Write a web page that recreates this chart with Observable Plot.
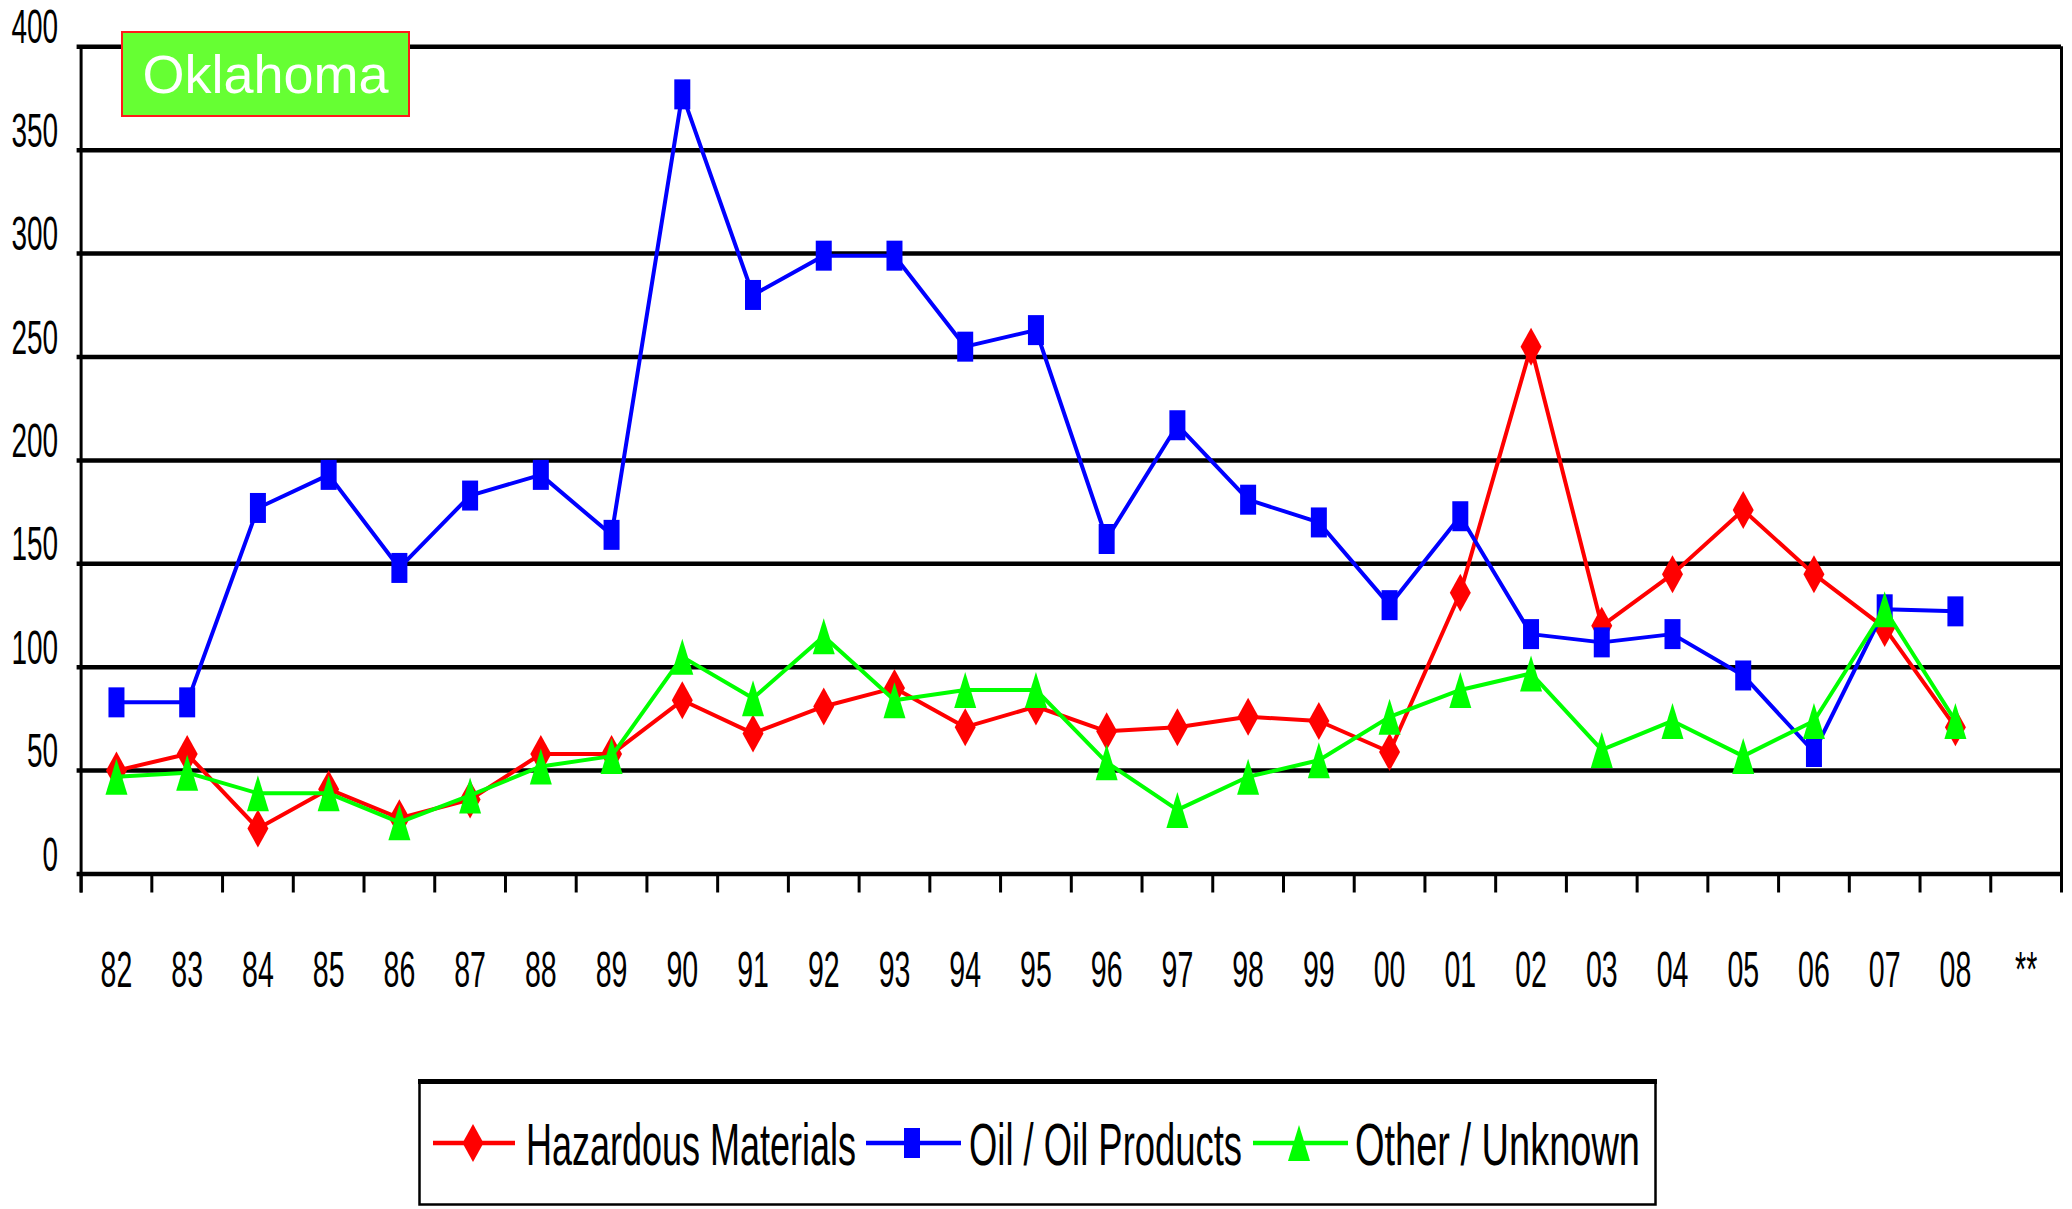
<!DOCTYPE html>
<html>
<head>
<meta charset="utf-8">
<script src="https://cdn.jsdelivr.net/npm/d3@7"></script>
<script src="https://cdn.jsdelivr.net/npm/@observablehq/plot@0.6"></script>
<style>
  html, body { margin: 0; padding: 0; background: #fff; }
  #wrap { position: relative; width: 2072px; height: 1209px; overflow: hidden; font-family: "Liberation Sans", Arial, sans-serif; }
  #title { position: absolute; left: 121px; top: 31px; width: 285px; height: 82px; background: #66ff33; border: 2px solid #ff1a1a; color: #fff; font-size: 54px; line-height: 82px; text-align: center; }
  #legend { position: absolute; left: 418px; top: 1079px; }
</style>
</head>
<body>
<div id="wrap">
  <div id="chart"></div>
  <div id="title">Oklahoma</div>
  <div id="legend"></div>
</div>
<script>
// ---- data ----
const years = ["82","83","84","85","86","87","88","89","90","91","92","93","94","95","96","97","98","99","00","01","02","03","04","05","06","07","08"];
const categories = years.concat(["**"]);
const hazardous = [50,58,22,41,27,36,58,58,84,68,81,90,71,81,69,71,76,74,59,136,255,120,145,176,145,119,71];
const oil = [83,83,177,193,148,183,193,164,377,280,299,299,255,263,162,217,181,170,130,173,116,112,116,96,59,128,127];
const other = [47,49,39,39,25,38,52,57,105,85,115,84,89,89,54,31,47,55,76,89,97,60,74,57,74,128,74];
const yTicks = [0,50,100,150,200,250,300,350,400];
const seriesNames = ["Hazardous Materials","Oil / Oil Products","Other / Unknown"];
const seriesColors = ["#ff0000","#0000ff","#00ff00"];

// ---- marker shapes ----
const rectSym = {draw(c){ const w=8,h=15; c.moveTo(-w,-h); c.lineTo(w,-h); c.lineTo(w,h); c.lineTo(-w,h); c.closePath(); }};
const diamondSym = {draw(c){ const w=10.5,h=19; c.moveTo(0,-h); c.lineTo(w,0); c.lineTo(0,h); c.lineTo(-w,0); c.closePath(); }};
const triSym = {draw(c){ const w=11,h=18; c.moveTo(0,-h); c.lineTo(w,h); c.lineTo(-w,h); c.closePath(); }};
const symbols = [diamondSym, rectSym, triSym];

const W = 2072, H = 1070;
const mL = 80.6, mR = 11, mT = 46.3, mB = H - 873.5;
const step = (W - mL - mR) / categories.length;

const toRows = vals => years.map((yr, i) => ({year: yr, value: vals[i]}));
const series = [hazardous, oil, other].map(toRows);

const marks = [
  Plot.ruleY(yTicks, {y: d => d, stroke: "#000", strokeWidth: 4.5, insetLeft: -4}),
  Plot.ruleX([categories[0]], {x: d => d, dx: -step/2, y1: 400, y2: 0, insetBottom: -19, stroke: "#000", strokeWidth: 3}),
  Plot.ruleX([categories[categories.length-1]], {x: d => d, dx: step/2, y1: 400, y2: 0, insetBottom: -19, stroke: "#000", strokeWidth: 3}),
  Plot.ruleX(categories, {x: d => d, dx: -step/2, y1: 0, y2: 0, insetBottom: -19, stroke: "#000", strokeWidth: 3}),
  Plot.text(yTicks, {y: d => d, text: d => String(d), frameAnchor: "left", textAnchor: "end", dx: -23, dy: -19, fontSize: 49, fill: "#000"}),
  Plot.text(categories, {x: d => d, text: d => d, frameAnchor: "bottom", dy: 96.5, lineAnchor: "middle", fontSize: 50, fill: "#000"})
];
series.forEach((rows, k) => {
  marks.push(Plot.line(rows, {x: "year", y: "value", stroke: seriesColors[k], strokeWidth: 4}));
  marks.push(Plot.dot(rows, {x: "year", y: "value", symbol: symbols[k], fill: seriesColors[k], stroke: "none"}));
});

const svg = Plot.plot({
  width: W, height: H,
  marginLeft: mL, marginRight: mR, marginTop: mT, marginBottom: mB,
  style: {fontFamily: "'Liberation Sans', Arial, sans-serif", background: "#fff", overflow: "visible"},
  x: {type: "point", domain: categories, padding: 0.5, round: false, axis: null},
  y: {domain: [0, 400], axis: null},
  marks
});
document.getElementById("chart").appendChild(svg);

// condense tick label text like the original narrow font
svg.querySelectorAll("text").forEach(t => {
  const L = t.getComputedTextLength();
  if (L > 0) { t.setAttribute("textLength", (L * 0.57).toFixed(1)); t.setAttribute("lengthAdjust", "spacingAndGlyphs"); }
});

// ---- legend ----
const LW = 1239, LH = 127;
const lg = d3.select("#legend").append("svg").attr("width", LW).attr("height", LH);
lg.append("rect").attr("x", 1.5).attr("y", 2.5).attr("width", LW - 3).attr("height", LH - 4).attr("fill", "#fff").attr("stroke", "#000").attr("stroke-width", 2.5);
lg.append("line").attr("x1", 0).attr("x2", LW).attr("y1", 2.5).attr("y2", 2.5).attr("stroke", "#000").attr("stroke-width", 5);
const items = [
  {x0: 15, x1: 97, mx: 55, tx: 108, tw: 330},
  {x0: 448, x1: 543, mx: 494, tx: 551, tw: 273},
  {x0: 835, x1: 930, mx: 881, tx: 937, tw: 285}
];
const cy = 64;
items.forEach((it, k) => {
  lg.append("line").attr("x1", it.x0).attr("x2", it.x1).attr("y1", cy).attr("y2", cy).attr("stroke", seriesColors[k]).attr("stroke-width", 4.5);
  lg.append("path").attr("d", d3.symbol(symbols[k])()).attr("transform", `translate(${it.mx},${cy})`).attr("fill", seriesColors[k]);
  const g = lg.append("g");
  const t = g.append("text").attr("x", 0).attr("y", 0).attr("dy", "0.36em").attr("font-size", 60)
    .attr("font-family", "'Liberation Sans', Arial, sans-serif").text(seriesNames[k]);
  const L = t.node().getComputedTextLength();
  g.attr("transform", `translate(${it.tx},${cy}) scale(${(it.tw / L).toFixed(4)},1)`);
});
</script>
</body>
</html>
